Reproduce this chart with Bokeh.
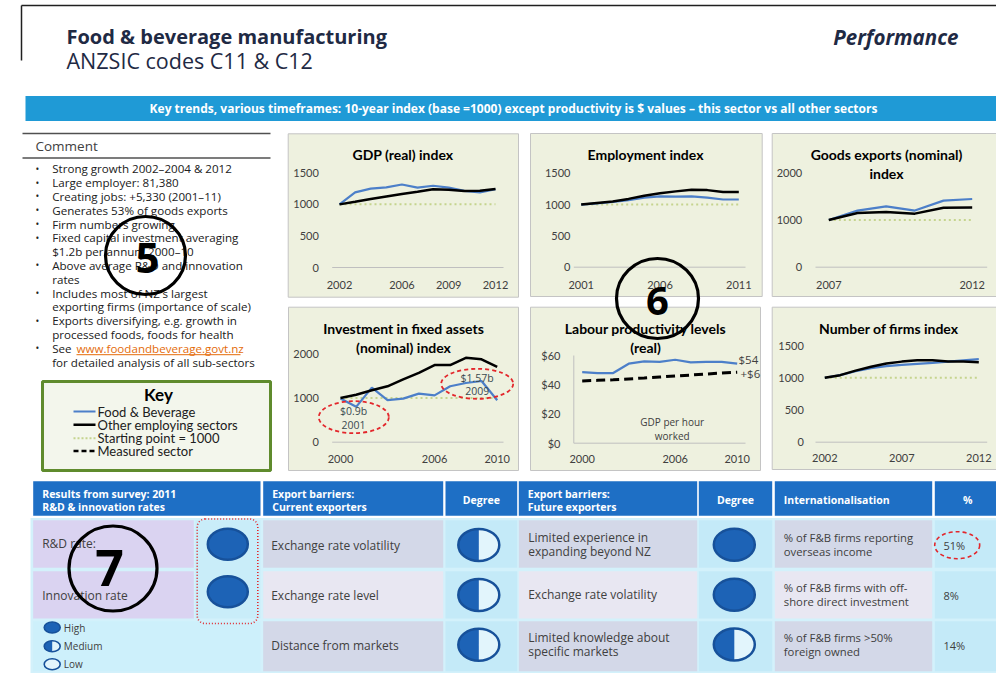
import numpy as np
from bokeh.plotting import figure
from bokeh.models import Range1d, ColumnDataSource
from bokeh.embed import file_html
from bokeh.resources import INLINE
from bokeh.core.properties import value

FG = "Open Sans"
FC = "Lato"

# ---------------- data ----------------
BASE = 1000

gdp_years = [2002, 2003, 2004, 2005, 2006, 2007, 2008, 2009, 2010, 2011, 2012]
gdp_fb = [1000, 1190, 1250, 1270, 1315, 1265, 1295, 1265, 1215, 1190, 1240]
gdp_other = [1000, 1040, 1085, 1125, 1165, 1200, 1240, 1230, 1210, 1215, 1245]
gdp_xticks = [2002, 2006, 2009, 2012]
gdp_yticks = [0, 500, 1000, 1500]

emp_years = [2001, 2002, 2003, 2004, 2005, 2006, 2007, 2008, 2009, 2010, 2011]
emp_fb = [1000, 1020, 1040, 1070, 1110, 1130, 1125, 1130, 1110, 1080, 1080]
emp_other = [1000, 1025, 1050, 1090, 1140, 1180, 1210, 1235, 1230, 1200, 1200]
emp_xticks = [2001, 2006, 2011]
emp_yticks = [0, 500, 1000, 1500]

exp_years = [2007, 2008, 2009, 2010, 2011, 2012]
exp_fb = [1000, 1200, 1290, 1200, 1410, 1445]
exp_other = [1000, 1150, 1170, 1135, 1260, 1265]
exp_xticks = [2007, 2012]
exp_yticks = [0, 1000, 2000]

inv_years = [2000, 2001, 2002, 2003, 2004, 2005, 2006, 2007, 2008, 2009, 2010]
inv_fb = [990, 800, 1235, 950, 985, 1100, 1060, 1265, 1340, 1385, 950]
inv_other = [1000, 1075, 1175, 1265, 1420, 1570, 1745, 1745, 1910, 1875, 1705]
inv_xticks = [2000, 2006, 2010]
inv_yticks = [0, 1000, 2000]

lab_years = [2000, 2001, 2002, 2003, 2004, 2005, 2006, 2007, 2008, 2009, 2010]
lab_fb = [48.6, 48.0, 48.0, 54.4, 56.0, 55.6, 57.1, 55.3, 55.6, 55.6, 54.4]
lab_meas = [42.6, 43.0, 43.4, 44.0, 44.6, 45.3, 46.0, 46.6, 47.3, 48.0, 48.5]
lab_xticks = [2000, 2006, 2010]
lab_yticks = [0, 20, 40, 60]

firm_years = [2002, 2003, 2004, 2005, 2006, 2007, 2008, 2009, 2010, 2011, 2012]
firm_fb = [1000, 1040, 1100, 1150, 1180, 1200, 1215, 1230, 1250, 1270, 1290]
firm_other = [1000, 1040, 1110, 1170, 1220, 1250, 1270, 1270, 1250, 1250, 1240]
firm_xticks = [2002, 2007, 2012]
firm_yticks = [0, 500, 1000, 1500]

comment_lines = [
    ("•", "Strong growth 2002–2004 & 2012"),
    ("•", "Large employer: 81,380"),
    ("•", "Creating jobs: +5,330 (2001–11)"),
    ("•", "Generates 53% of goods exports"),
    ("•", "Firm numbers growing"),
    ("•", "Fixed capital investment averaging"),
    ("", "$1.2b per annum 2000–10"),
    ("•", "Above average R&D and innovation"),
    ("", "rates"),
    ("•", "Includes most of NZ's largest"),
    ("", "exporting firms (importance of scale)"),
    ("•", "Exports diversifying, e.g. growth in"),
    ("", "processed foods, foods for health"),
    ("•", "See"),
    ("", "for detailed analysis of all sub-sectors"),
]
link_text = "www.foodandbeverage.govt.nz"

key_labels = ["Food & Beverage", "Other employing sectors", "Starting point = 1000", "Measured sector"]

hdr_texts = [["Results from survey: 2011", "R&D & innovation rates"],
             ["Export barriers:", "Current exporters"],
             ["Degree"],
             ["Export barriers:", "Future exporters"],
             ["Degree"],
             ["Internationalisation"],
             ["%"]]
survey_items = ["R&D rate:", "Innovation rate"]
survey_levels = ["high", "high"]
cur_barriers = [["Exchange rate volatility"], ["Exchange rate level"], ["Distance from markets"]]
cur_levels = ["medium", "medium", "medium"]
fut_barriers = [["Limited experience in", "expanding beyond NZ"], ["Exchange rate volatility"],
                ["Limited knowledge about", "specific markets"]]
fut_levels = ["high", "high", "medium"]
intl_items = [["% of F&B firms reporting", "overseas income"], ["% of F&B firms with off-", "shore direct investment"],
              ["% of F&B firms >50%", "foreign owned"]]
intl_pct = ["51%", "8%", "14%"]
legend_levels = [("high", "High"), ("medium", "Medium"), ("low", "Low")]

# ---------------- colours ----------------
NAVY = "#1F2A44"
BLUE = "#4C7FC9"
PALE = "#C5D48E"
TXT = "#404040"
PANEL = "#EEF1DF"
HDR = "#1E6FC5"
SYM = "#1D63B6"
RED = "#E3262B"

# ---------------- figure ----------------
W, H = 996, 683
X0, Y0 = 0, 0
p = figure(width=W, height=H, x_range=Range1d(X0, X0 + W), y_range=Range1d(Y0 + H, Y0),
           output_backend="svg", toolbar_location=None, x_axis_location=None, y_axis_location=None,
           min_border=0, outline_line_color=None, background_fill_color="white", border_fill_color="white")
p.grid.visible = False


def T(xs, ys, ts, size, font=FG, color=TXT, align="left", baseline="middle", style="normal",
      xr="default", yr="default"):
    src = ColumnDataSource(dict(x=list(xs), y=list(ys), t=list(ts)))
    p.text("x", "y", text="t", source=src, text_font=value(font), text_font_size=size, text_color=color,
           text_align=align, text_baseline=baseline, text_font_style=style, x_range_name=xr, y_range_name=yr)


def box(l, r, t, b, fill, line=None, lw=1, **kw):
    p.quad(left=[l], right=[r], top=[t], bottom=[b], fill_color=fill, line_color=line, line_width=lw, **kw)


def xrange_for(d0, d1, px0, px1):
    span = (d1 - d0) * W / (px1 - px0)
    s = d0 - (px0 - X0) / W * span
    return Range1d(s, s + span)


def yrange_for(v0, v1, py0, py1):
    span = (v1 - v0) * H / (py0 - py1)
    s = v0 - (Y0 + H - py0) / H * span
    return Range1d(s, s + span)


# ---------------- header ----------------
p.segment(x0=[21, 21], x1=[21, 996], y0=[5, 5], y1=[60, 5], line_color="#202020", line_width=1.5)
T([66], [36], ["Food & beverage manufacturing"], "20px", color=NAVY, style="bold")
T([66], [60], ["ANZSIC codes C11 & C12"], "21.5px", color=NAVY)
T([958], [36], ["Performance"], "20.5px", color=NAVY, style="bold italic", align="right")
box(25, 1000, 95.5, 120.5, "#1F9AD6")
T([513], [108], ["Key trends, various timeframes: 10-year index (base =1000) except productivity is $ values – "
                 "this sector vs all other sectors"], "12px", color="white", style="bold", align="center")

# ---------------- comment ----------------
p.segment(x0=[22, 22], x1=[270, 270], y0=[133, 157.5], y1=[133, 157.5], line_color="#505050", line_width=1.5)
T([35], [145], ["Comment"], "13.5px", color=TXT)
ys = [168.3 + 13.8 * i for i in range(len(comment_lines))]
T([35] * len(ys), ys, [c[0] for c in comment_lines], "10px", color="#202020", align="left")
T([51.7] * len(ys), ys, [c[1] for c in comment_lines], "11.6px", color="#202020")
yl = ys[13]
T([76], [yl], [link_text], "11.6px", color="#E46C0A")
p.segment(x0=[76], x1=[240], y0=[yl + 6.5], y1=[yl + 6.5], line_color="#E46C0A", line_width=1)

# ---------------- key ----------------
box(42, 270, 381, 470, "#F3F6EC", line="#5F8B2D", lw=3)
T([158], [394], ["Key"], "17px", font=FC, color="black", style="bold", align="center")
ky = [411, 424.3, 437.7, 450.5]
p.segment(x0=[73], x1=[95], y0=[ky[0]], y1=[ky[0]], line_color=BLUE, line_width=2)
p.segment(x0=[73], x1=[95], y0=[ky[1]], y1=[ky[1]], line_color="black", line_width=2.5)
p.segment(x0=[73], x1=[95], y0=[ky[2]], y1=[ky[2]], line_color=PALE, line_width=2, line_dash="2 2")
p.segment(x0=[73], x1=[95], y0=[ky[3]], y1=[ky[3]], line_color="black", line_width=2.5, line_dash="5 3")
T([97] * 4, ky, key_labels, "13px", font=FC, color="#202020")

# ---------------- charts ----------------
panels = [(287.7, 518, 133.3, 296.7), (530, 761.7, 133, 296), (771.7, 999, 133, 296),
          (288, 518, 306.7, 470), (530, 760, 306.7, 470), (771.7, 999, 306.7, 469)]
for (l, r, t, b) in panels:
    box(l, r, t, b, PANEL, line="#C4C4C4", lw=1)


def chart(key, years, fb, other, xticks, yticks, ylabels, xmap, ymap, ylab_right, xlab_y, base_x,
          titles, title_x, title_ys, base=True, measured=False, axes=False):
    kx, kyr = key + "_x", key + "_y"
    p.extra_x_ranges[kx] = xrange_for(*xmap)
    p.extra_y_ranges[kyr] = yrange_for(*ymap)
    if axes:
        p.segment(x0=[base_x[0]], x1=[base_x[0]], y0=[yticks[0]], y1=[yticks[-1]], line_color="#BFBFBF",
                  line_width=1, y_range_name=kyr)
    p.segment(x0=[base_x[0]], x1=[base_x[1]], y0=[yticks[0]], y1=[yticks[0]], line_color="#BFBFBF",
              line_width=1, y_range_name=kyr)
    if base:
        p.line(x=[years[0], years[-1]], y=[BASE, BASE], line_color=PALE, line_width=2, line_dash="2 3",
               x_range_name=kx, y_range_name=kyr)
    p.line(x=years, y=fb, line_color=BLUE, line_width=2.2, x_range_name=kx, y_range_name=kyr)
    if measured:
        p.line(x=years, y=other, line_color="black", line_width=3, line_dash="9 5", x_range_name=kx,
               y_range_name=kyr)
    else:
        p.line(x=years, y=other, line_color="black", line_width=2.5, x_range_name=kx, y_range_name=kyr)
    T(xticks, [xlab_y] * len(xticks), [str(v) for v in xticks], "11px", font=FC, color=TXT, align="center",
      xr=kx)
    T([ylab_right] * len(yticks), yticks, ylabels, "11px", font=FC, color=TXT, align="right", yr=kyr)
    T([title_x] * len(titles), title_ys, titles, "14px", font=FC, color="black", style="bold", align="center")
    return kx, kyr


chart("gdp", gdp_years, gdp_fb, gdp_other, gdp_xticks, gdp_yticks, [str(v) for v in gdp_yticks],
      (2002, 2012, 339, 495), (0, 1500, 267, 172.3), 318.3, 284.3, (331.7, 503),
      ["GDP (real) index"], 402.5, [154])
chart("emp", emp_years, emp_fb, emp_other, emp_xticks, emp_yticks, [str(v) for v in emp_yticks],
      (2001, 2011, 580.7, 738.3), (0, 1500, 266.7, 172.7), 570, 284.3, (573.3, 745),
      ["Employment index"], 645, [154])
chart("exp", exp_years, exp_fb, exp_other, exp_xticks, exp_yticks, [str(v) for v in exp_yticks],
      (2007, 2012, 828.3, 971.7), (0, 2000, 266.7, 172.3), 801.7, 284.3, (815, 986.7),
      ["Goods exports (nominal)", "index"], 886, [154, 172.7])
chart("inv", inv_years, inv_fb, inv_other, inv_xticks, inv_yticks, [str(v) for v in inv_yticks],
      (2000, 2010, 340, 496.7), (0, 2000, 441.7, 353.3), 318.3, 458.5, (331.7, 503),
      ["Investment in fixed assets", "(nominal) index"], 403, [328.3, 346.7])
chart("lab", lab_years, lab_fb, lab_meas, lab_xticks, lab_yticks, ["$" + str(v) for v in lab_yticks],
      (2000, 2010, 581.7, 736.7), (0, 60, 442.7, 355), 560, 458.3, (573.3, 745),
      ["Labour productivity levels", "(real)"], 645, [328.3, 346.7], base=False, measured=True, axes=True)
chart("firm", firm_years, firm_fb, firm_other, firm_xticks, firm_yticks, [str(v) for v in firm_yticks],
      (2002, 2012, 824.3, 978.3), (0, 1500, 441.7, 345), 803.3, 457, (815, 986.7),
      ["Number of firms index"], 888.3, [328.3])

# investment annotations
p.ellipse(x=[353.3, 476.7], y=[416.7, 383.3], width=[70, 72], height=[32, 30], fill_color=None,
          line_color=RED, line_width=1.8, line_dash="4 3")
T([353, 353, 476.7, 476.7], [410, 424.5, 377.7, 390.5], ["$0.9b", "2001", "$1.57b", "2009"], "10.5px",
  color="#3A4A50", align="center")
# productivity annotations
T([738, 740], [359.3, 372.7], ["$54", "+$6"], "11.5px", color=TXT)
T([671.7, 671.7], [421.7, 435], ["GDP per hour", "worked"], "10px", color=TXT, align="center")

# ---------------- table ----------------
cols = [(32.7, 260), (262.7, 442.7), (445, 516.7), (518.3, 696.7), (698.3, 771.7), (774.3, 931.7), (934.3, 1000)]
rows = [(519.7, 567.3), (570.7, 618), (620.7, 670.7)]
box(30, 1000, 517.5, 672.5, "#D3F1FB")
for (l, r) in cols:
    box(l, r, 480.7, 515.3, HDR)
for i, (l, r) in enumerate(cols):
    lines = hdr_texts[i]
    if len(lines) == 2:
        T([l + 9] * 2, [493, 506.3], lines, "10.5px", color="white", style="bold")
    elif i in (2, 4, 6):
        T([(l + r) / 2], [499.7], lines, "10.5px", color="white", style="bold", align="center")
    else:
        T([l + 9], [499.7], lines, "10.5px", color="white", style="bold")

LBL = ["#D3D8E8", "#E8E7F2", "#D3D8E8"]
DEG = "#C4EAF8"
# col1
box(32.7, 193.3, rows[0][0], rows[0][1], "#DAD3F1")
box(32.7, 193.3, rows[1][0], rows[1][1], "#DAD3F1")
box(195, 260, rows[0][0], rows[1][1], "#C9EDF9")
box(32.7, 260, rows[2][0], rows[2][1], "#CDF0FB")
for ci in (1, 3, 5):
    for ri, (t, b) in enumerate(rows):
        box(cols[ci][0], cols[ci][1], t, b, LBL[ri])
for ci in (2, 4, 6):
    for ri, (t, b) in enumerate(rows):
        box(cols[ci][0], cols[ci][1], t, b, DEG)


def symbol(cx, cy, w, h, level, lw=2.5):
    if level == "high":
        p.ellipse(x=[cx], y=[cy], width=[w], height=[h], fill_color=SYM, line_color="#17519A", line_width=lw)
        return
    p.ellipse(x=[cx], y=[cy], width=[w], height=[h], fill_color="#E2F5FC", line_color=None)
    if level == "medium":
        th = np.linspace(np.pi / 2, 3 * np.pi / 2, 40)
        p.patch(x=list(cx + w / 2 * np.cos(th)), y=list(cy + h / 2 * np.sin(th)), fill_color=SYM, line_color=None)
    p.ellipse(x=[cx], y=[cy], width=[w], height=[h], fill_color=None, line_color="#17519A", line_width=lw)


row_c = [544.7, 594.7, 644.5]
# col1 content
T([41.7, 41.7], [543, 594.7], survey_items, "12px", color=TXT)
for i, lev in enumerate(survey_levels):
    symbol(227.3, [543.7, 591.3][i], 40, 31, lev)
p.quad(left=[196.7], right=[257.3], top=[518.5], bottom=[623], fill_color=None, line_color=RED, line_width=1.6,
       line_dash="1 2", border_radius=8)
for i, (lev, lab) in enumerate(legend_levels):
    yy = [627, 645.7, 663.7][i]
    symbol(51.7, yy, 16, 11, lev, lw=1.6)
    T([63.3], [yy], [lab], "10px", color=TXT)


def cell_text(x, cy, lines, size="12px"):
    if len(lines) == 1:
        T([x], [cy], lines, size, color=TXT)
    else:
        T([x, x], [cy - 7, cy + 7], lines, size, color=TXT)


for ri in range(3):
    cell_text(270.7, row_c[ri], cur_barriers[ri])
    symbol(478.3, row_c[ri] - 0.3, 41, 32, cur_levels[ri])
    cell_text(527.7, row_c[ri] - 0.7, fut_barriers[ri])
    symbol(733.8, row_c[ri] - 0.5, 41, 32, fut_levels[ri])
    cell_text(783.3, row_c[ri] - 0.5, intl_items[ri], "11.3px")
    T([943], [row_c[ri]], [intl_pct[ri]], "11px", color=TXT)
p.ellipse(x=[956.7], y=[544.7], width=[45], height=[27], fill_color=None, line_color=RED, line_width=1.6,
          line_dash="4 3")

# ---------------- numbered circles ----------------
p.ellipse(x=[145, 657, 112.5], y=[255, 298, 568], width=[80, 82, 88], height=[78, 80, 85],
          fill_color=None, line_color="black", line_width=3.2)
T([147], [257], ["5"], "42px", color="black", style="bold", align="center")
T([657], [300], ["6"], "40px", color="black", style="bold", align="center")
T([109], [567], ["7"], "50px", color="black", style="bold", align="center")

open("out.html", "w").write(file_html(p, INLINE))
